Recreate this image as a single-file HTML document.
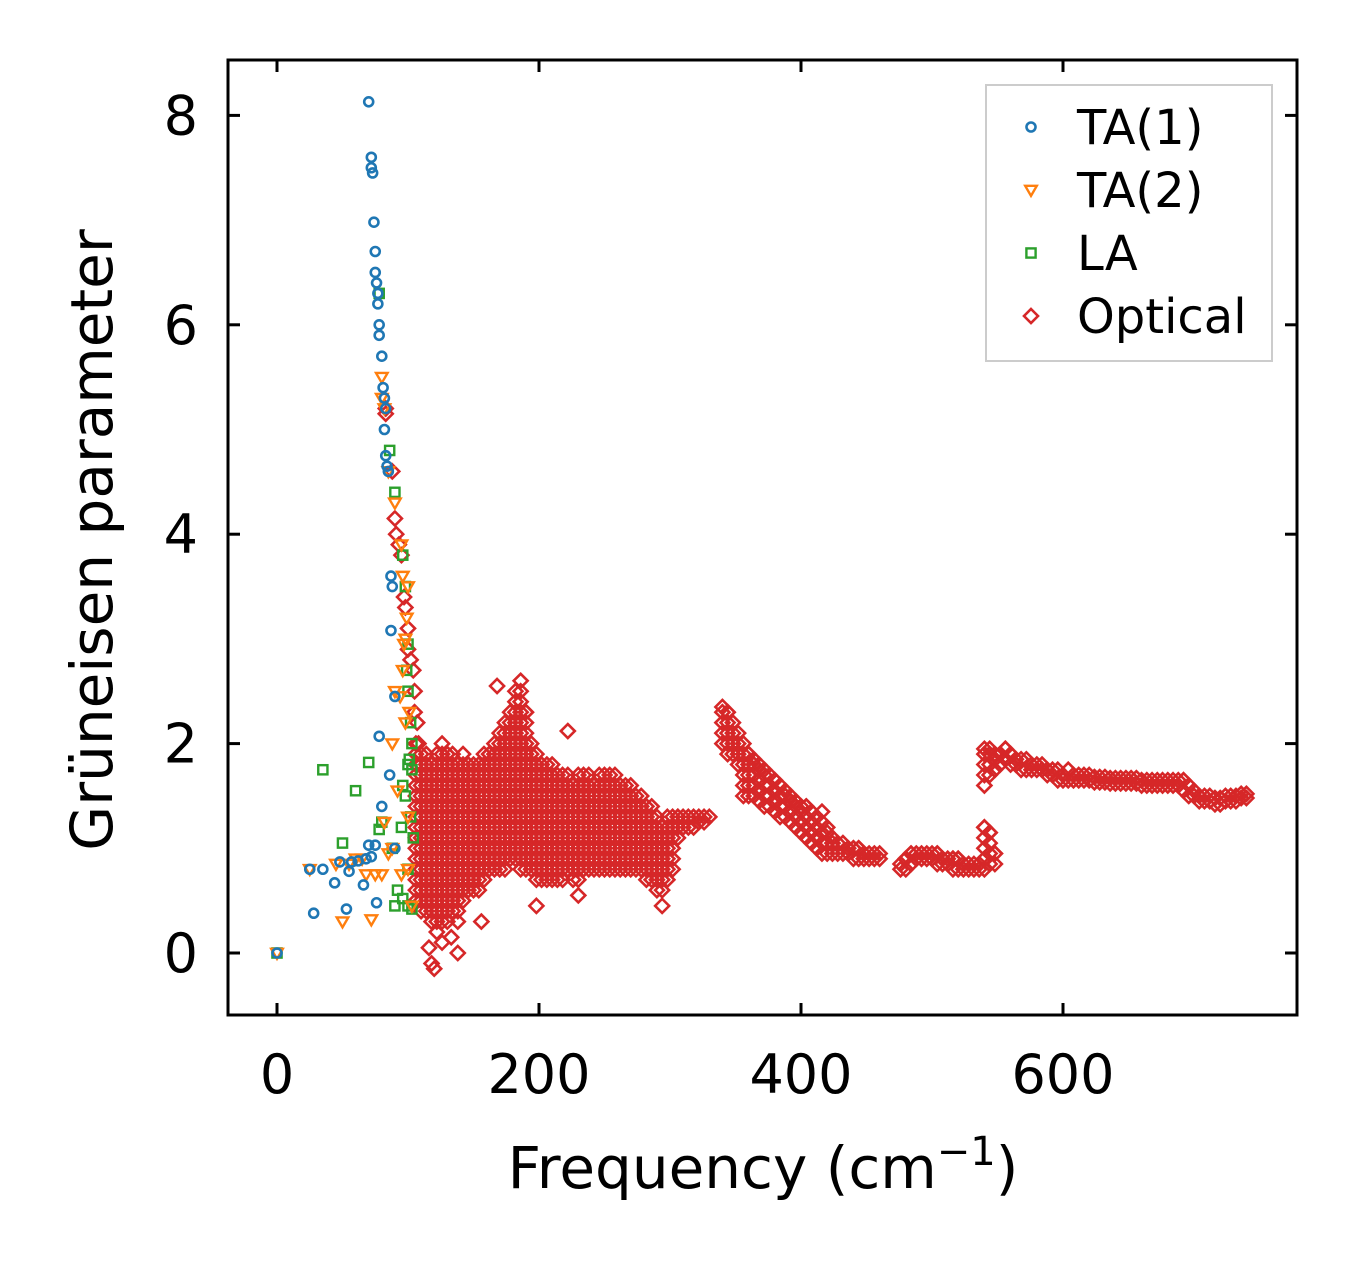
<!DOCTYPE html>
<html><head><meta charset="utf-8"><style>
html,body{margin:0;padding:0;background:#fff;}
svg{display:block;font-family:"DejaVu Sans","Liberation Sans",sans-serif;}
</style></head><body>
<svg id="chart" width="1357" height="1264" viewBox="0 0 1357 1264" xmlns="http://www.w3.org/2000/svg">
<rect x="0" y="0" width="1357" height="1264" fill="#fff"/>
<g id="marks"></g>
<rect x="228" y="60" width="1069" height="955" fill="none" stroke="#000" stroke-width="3"/>
<g id="axes"></g>
<text x="763" y="1188" font-size="58" text-anchor="middle">Frequency (cm<tspan dy="-23" font-size="40">−1</tspan><tspan dy="23">)</tspan></text>
<text transform="translate(112,540) rotate(-90)" font-size="58" text-anchor="middle">Grüneisen parameter</text>
<g>
<rect x="986" y="85" width="286" height="276" fill="#fff" stroke="#ccc" stroke-width="2"/>
<g id="legend-items"></g>
</g>
</svg>
<script>
const xTicks=[0,200,400,600];
const yTicks=[0,2,4,6,8];
const ta1=[[0,0],[25,0.8],[28,0.38],[35,0.8],[44,0.67],[48,0.87],[53,0.42],[55,0.78],[57,0.87],[62,0.88],[66,0.65],[68,0.9],[70,1.03],[72,0.92],[75,1.03],[76,0.48],[78,2.07],[80,1.4],[70,8.13],[72,7.6],[72,7.5],[73,7.45],[74,6.98],[75,6.7],[75,6.5],[76,6.4],[77,6.3],[77,6.2],[78,6.0],[78,5.9],[80,5.7],[81,5.4],[82,5.3],[83,5.2],[82,5.0],[83,4.75],[84,4.65],[85,4.6],[87,3.6],[88,3.5],[87,3.08],[90,2.45],[86,1.7],[90,1.0]];
const ta2=[[0,0],[25,0.8],[50,0.3],[55,0.85],[72,0.32],[68,0.75],[75,0.75],[80,0.75],[85,0.95],[88,1.0],[92,1.55],[95,0.75],[100,0.8],[82,1.25],[88,2.0],[90,2.5],[94,2.45],[96,2.7],[97,2.95],[98,3.0],[99,3.2],[100,3.5],[96,3.6],[95,3.9],[90,4.3],[85,4.6],[80,5.3],[80,5.5],[82,5.2],[98,2.2],[101,2.3],[100,1.3],[103,0.45],[65,0.9],[60,0.9],[45,0.85]];
const la=[[0,0],[35,1.75],[50,1.05],[60,1.55],[70,1.82],[80,1.25],[78,1.18],[90,0.45],[92,0.6],[96,0.52],[100,0.45],[103,0.42],[95,1.2],[98,1.5],[100,1.8],[101,1.85],[103,1.75],[102,1.3],[104,1.1],[100,0.8],[88,1.0],[96,1.6],[103,2.0],[102,2.2],[100,2.5],[99,2.7],[100,2.95],[98,3.5],[96,3.8],[90,4.4],[86,4.8],[78,6.3]];
const opticalPts=[[83,5.2],[83,5.15],[88,4.6],[90,4.15],[91,4.0],[93,3.9],[95,3.8],[97,3.4],[98,3.3],[100,3.1],[100,2.9],[102,2.8],[104,2.7],[105,2.5],[105,2.3],[107,2.2],[108,2.0],[168,2.55],[120,-0.15],[118,-0.1],[116,0.05],[138,0.0],[156,0.3],[294,0.45],[222,2.12],[198,0.45],[230,0.55],[133,0.15],[126,0.1]];
const bandX=[106,110,114,118,122,126,130,134,138,142,146,150,154,158,162,166,170,174,178,182,186,190,194,198,202,206,210,214,218,222,226,230,234,238,242,246,250,254,258,262,266,270,274,278,282,286,290,294,298,302,306,310,314,318,322,326,330,
340,344,348,352,356,360,364,368,372,376,380,384,388,392,396,400,404,408,412,416,420,424,428,432,436,440,444,448,452,456,460,
476,480,484,488,492,496,500,504,508,512,516,520,524,528,532,536,540,544,548,
540,544,548,552,556,560,564,568,572,576,580,584,588,592,596,600,604,608,612,616,620,624,628,632,636,640,644,648,652,656,660,664,668,672,676,680,684,688,692,696,700,704,708,712,716,720,724,728,732,736,740];
const bandLow=[0.5,0.4,0.4,0.3,0.2,0.3,0.3,0.4,0.3,0.5,0.6,0.6,0.6,0.7,0.8,0.8,0.8,0.8,0.9,0.9,0.8,0.8,0.8,0.7,0.7,0.7,0.7,0.7,0.7,0.8,0.7,0.7,0.8,0.8,0.8,0.8,0.8,0.8,0.8,0.8,0.8,0.8,0.8,0.8,0.7,0.7,0.6,0.6,0.7,0.8,1.1,1.2,1.2,1.2,1.25,1.25,1.3,
2.0,1.9,1.9,1.8,1.5,1.5,1.5,1.45,1.4,1.4,1.35,1.3,1.3,1.25,1.2,1.15,1.1,1.05,1.0,0.95,0.95,0.95,0.95,0.95,0.95,0.9,0.9,0.9,0.9,0.9,0.9,
0.8,0.8,0.85,0.9,0.9,0.9,0.9,0.85,0.85,0.85,0.8,0.8,0.8,0.8,0.8,0.8,0.8,0.85,0.85,
1.6,1.7,1.75,1.8,1.85,1.8,1.8,1.75,1.75,1.75,1.75,1.75,1.7,1.7,1.65,1.65,1.65,1.65,1.65,1.65,1.65,1.63,1.63,1.63,1.62,1.62,1.62,1.62,1.62,1.62,1.6,1.6,1.6,1.6,1.6,1.6,1.6,1.6,1.55,1.5,1.5,1.45,1.45,1.45,1.42,1.42,1.45,1.45,1.45,1.48,1.48];
const bandHigh=[2.0,1.9,1.9,1.8,1.9,2.0,1.9,1.9,1.8,1.9,1.8,1.8,1.8,1.9,1.9,2.0,2.1,2.2,2.3,2.5,2.6,2.3,2.0,1.9,1.8,1.8,1.8,1.7,1.7,1.7,1.6,1.7,1.7,1.7,1.6,1.7,1.7,1.7,1.7,1.6,1.6,1.6,1.5,1.5,1.4,1.4,1.3,1.2,1.3,1.3,1.3,1.3,1.3,1.3,1.3,1.3,1.3,
2.35,2.3,2.2,2.1,2.0,1.9,1.85,1.8,1.75,1.7,1.65,1.6,1.55,1.5,1.45,1.4,1.4,1.35,1.3,1.35,1.2,1.1,1.05,1.05,1.0,1.0,1.0,0.95,0.95,0.95,0.95,
0.85,0.9,0.95,0.95,0.95,0.95,0.95,0.95,0.9,0.9,0.9,0.9,0.85,0.85,0.85,0.85,1.2,1.15,0.95,
1.95,1.95,1.9,1.9,1.95,1.9,1.85,1.85,1.85,1.8,1.8,1.8,1.75,1.75,1.75,1.7,1.75,1.7,1.7,1.7,1.7,1.68,1.68,1.68,1.67,1.67,1.67,1.67,1.67,1.67,1.65,1.65,1.65,1.65,1.65,1.65,1.65,1.65,1.65,1.6,1.55,1.5,1.5,1.5,1.48,1.48,1.5,1.5,1.5,1.52,1.52];

const X=v=>277+v*1.31;
const Y=v=>953-v*104.7;
const NS="http://www.w3.org/2000/svg";
const marks=document.getElementById('marks');
const axes=document.getElementById('axes');
function mk(tag,attrs,parent){const e=document.createElementNS(NS,tag);for(const k in attrs)e.setAttribute(k,attrs[k]);parent.appendChild(e);return e;}
function circle(cx,cy,c,p){return mk('circle',{cx:cx,cy:cy,r:4.5,fill:'none',stroke:c,'stroke-width':2.6},p);}
function tri(cx,cy,c,p){return mk('polygon',{points:`${cx-5.8},${cy-4.2} ${cx+5.8},${cy-4.2} ${cx},${cy+5.8}`,fill:'none',stroke:c,'stroke-width':2.4},p);}
function sq(cx,cy,c,p){return mk('rect',{x:cx-4.6,y:cy-4.6,width:9.2,height:9.2,fill:'none',stroke:c,'stroke-width':2.4},p);}
function dia(cx,cy,c,p){return mk('polygon',{points:`${cx},${cy-7} ${cx+7},${cy} ${cx},${cy+7} ${cx-7},${cy}`,fill:'none',stroke:c,'stroke-width':2.6},p);}
const BLUE='#1f77b4',ORANGE='#ff7f0e',GREEN='#2ca02c',RED='#d62728';

for(let i=0;i<bandX.length;i++){
  for(let g=bandLow[i];g<=bandHigh[i]+1e-6;g+=0.1){
    const e=dia(X(bandX[i]),Y(g),RED,marks);
    
    
  }
  if(bandHigh[i]-bandLow[i]>0.001 && ((bandHigh[i]-bandLow[i])*10)%1>0.01){
    const e=dia(X(bandX[i]),Y(bandHigh[i]),RED,marks);
    
    
  }
}
opticalPts.forEach(p=>{const e=dia(X(p[0]),Y(p[1]),RED,marks);

});
la.forEach(p=>{const e=sq(X(p[0]),Y(p[1]),GREEN,marks);

});
ta2.forEach(p=>{const e=tri(X(p[0]),Y(p[1]),ORANGE,marks);

});
ta1.forEach(p=>{const e=circle(X(p[0]),Y(p[1]),BLUE,marks);

});

xTicks.forEach(t=>{const x=X(t);
  const a=mk('line',{x1:x,y1:1015,x2:x,y2:1003,stroke:'#000','stroke-width':3},axes);
  
  
  const b=mk('line',{x1:x,y1:60,x2:x,y2:72,stroke:'#000','stroke-width':3},axes);
  
  
  const l=mk('text',{x:x,y:1093,'font-size':54,'text-anchor':'middle'},axes);l.textContent=t;
  
  
});
yTicks.forEach(t=>{const y=Y(t);
  const a=mk('line',{x1:228,y1:y,x2:240,y2:y,stroke:'#000','stroke-width':3},axes);
  
  
  const b=mk('line',{x1:1297,y1:y,x2:1285,y2:y,stroke:'#000','stroke-width':3},axes);
  
  
  const l=mk('text',{x:198,y:y+19,'font-size':54,'text-anchor':'end'},axes);l.textContent=t;
  
  
});

const legendLabels=['TA(1)','TA(2)','LA','Optical'];
const legendFns=[circle,tri,sq,dia];
const legendColors=[BLUE,ORANGE,GREEN,RED];
const lg=document.getElementById('legend-items');
legendLabels.forEach((lab,i)=>{const y=127+i*63;
  const m=legendFns[i](1031,y,legendColors[i],lg);
  
  
  const t=mk('text',{x:1077,y:y+17,'font-size':48},lg);t.textContent=lab;
  
  
});
</script>
</body></html>
